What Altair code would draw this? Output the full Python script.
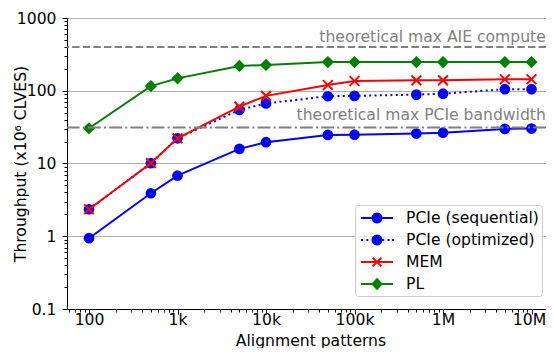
import math
import altair as alt
import pandas as pd

# ---------------- data ----------------
patterns = [100, 500, 1000, 5000, 10000, 50000, 100000, 500000, 1000000, 5000000, 10000000]
pcie_seq = [0.94, 3.9, 6.8, 15.9, 19.6, 24.7, 24.9, 25.8, 26.5, 29.9, 30.2]
pcie_opt = [2.35, 10.1, 22.2, 54.5, 67, 84, 85, 88.5, 91, 105, 105]
mem = [2.35, 10.1, 22.2, 60.5, 85, 120, 136, 139, 139, 144, 144]
pl = [30.5, 116, 148, 219, 226, 248, 248, 248, 248, 248, 248]

series_names = ["PCIe (sequential)", "PCIe (optimized)", "MEM", "PL"]
series_values = [pcie_seq, pcie_opt, mem, pl]
series_colors = ["#0000ff", "#0000ff", "#ff0000", "#008000"]

ref_values = [400, 31.25]
ref_labels = ["theoretical max AIE compute", "theoretical max PCIe bandwidth"]
ref_label_x = 14500000

x_major = [100, 1000, 10000, 100000, 1000000, 10000000]
x_major_labels = ["100", "1k", "10k", "100k", "1M", "10M"]
y_major = [0.1, 1, 10, 100, 1000]
y_major_labels = ["0.1", "1", "10", "100", "1000"]

# ---------------- styling ----------------
FONT = "DejaVu Sans"
FS = 15.6
X_DOMAIN = [56.4, 14580000]
Y_DOMAIN = [0.1, 1000]

x_ticks = [m * 10 ** e for e in range(1, 8) for m in range(1, 10) if X_DOMAIN[0] <= m * 10 ** e <= X_DOMAIN[1]]
y_ticks = [round(m * 10 ** e, 6) for e in range(-1, 4) for m in range(1, 10) if 0.1 <= m * 10 ** e <= 1000]


def label_expr(values, labels):
    expr = "''"
    for v, l in reversed(list(zip(values, labels))):
        expr = f"datum.value == {v} ? '{l}' : ({expr})"
    return expr


MAJOR = "abs(log(datum.value)/LN10 - round(log(datum.value)/LN10)) < 0.001"

x_axis = alt.Axis(
    values=x_ticks,
    labelExpr=label_expr(x_major, x_major_labels),
    tickSize={"condition": {"test": MAJOR, "value": 5}, "value": 3},
    grid=False,
    labelOverlap=False,
    labelFlush=False,
    labelBaseline="alphabetic",
    labelPadding=10,
    labelOffset={"condition": {"test": "datum.value == 10000000", "value": -2.5}, "value": 0},
    title="Alignment patterns",
    titleX=243.5,
    titleY=36,
    titleBaseline="alphabetic",
)
y_axis = alt.Axis(
    values=y_ticks,
    labelExpr=label_expr(y_major, y_major_labels),
    tickSize={"condition": {"test": MAJOR, "value": 5}, "value": 3},
    grid=True,
    gridOpacity={"condition": {"test": MAJOR, "value": 1}, "value": 0},
    gridColor="#b0b0b0",
    gridWidth=1,
    labelOverlap=False,
    labelFlush=False,
    labelPadding=6,
    title="Throughput (x10\u2076 CLVES)",
    titleX=-39,
    titleY=145.5,
    titleBaseline="bottom",
    titleAngle=270,
)

X = alt.X("x:Q", scale=alt.Scale(type="log", domain=X_DOMAIN, nice=False), axis=x_axis)
Y = alt.Y("y:Q", scale=alt.Scale(type="log", domain=Y_DOMAIN, nice=False), axis=y_axis)


# ---------------- legend symbols (line + marker as filled paths) ----------------
def poly(pts):
    return "M" + "L".join(f"{px:.3f},{py:.3f}" for px, py in pts) + "Z"


def bar(cx, cy, ang, a, b):
    ca, sa = math.cos(ang), math.sin(ang)
    loc = [(a, -b), (a, b), (-a, b), (-a, -b)]
    return poly([(cx + u * ca - v * sa, cy + u * sa + v * ca) for u, v in loc])


S = 0.9  # horizontal shift of the drawn symbol
LINE = bar(S, 0, 0, 1.6, 0.1)
CIRC = poly([(S + 0.55 * math.cos(2 * math.pi * k / 24), 0.55 * math.sin(2 * math.pi * k / 24)) for k in range(24)])
DOTS = "".join(bar(S + d, 0, 0, 0.1, 0.1) for d in [-1.5, -0.97, -0.44, 0.62, 1.15, 1.6])
XMARK = bar(S, 0, math.pi / 4, 0.62, 0.1) + bar(S, 0, -math.pi / 4, 0.62, 0.1)
DIAM = poly([(S, -0.62), (S + 0.58, 0), (S, 0.62), (S - 0.58, 0)])
legend_paths = [LINE + CIRC, DOTS + CIRC, LINE + XMARK, LINE + DIAM]

legend = alt.Legend(
    title=None,
    orient="none",
    legendX=288,
    legendY=187,
    symbolSize=400,
    symbolStrokeWidth=0,
    symbolOpacity=1,
    labelFont=FONT,
    labelFontSize=FS,
    labelColor="black",
    labelOffset=28,
    rowPadding=3,
    padding=3,
    strokeColor="#cccccc",
    fillColor="rgba(255,255,255,0.8)",
    cornerRadius=3,
)

# ---------------- layers ----------------
layers = []
markers = [
    dict(shape="circle", filled=True, size=115),
    dict(shape="circle", filled=True, size=115),
    dict(shape="M-1,-1L1,1M-1,1L1,-1", filled=False, size=95),
    dict(shape="diamond", filled=True, size=150),
]
dashes = [None, [2, 3.3], None, None]

for name, vals, col, mk, dash in zip(series_names, series_values, series_colors, markers, dashes):
    d = pd.DataFrame({"x": patterns, "y": vals, "series": name})
    line_kw = dict(strokeWidth=2, color=col, clip=True)
    if dash:
        line_kw["strokeDash"] = dash
    layers.append(alt.Chart(d).mark_line(**line_kw).encode(x=X, y=Y))
    pt_kw = dict(shape=mk["shape"], filled=mk["filled"], size=mk["size"], color=col, opacity=1)
    if not mk["filled"]:
        pt_kw["strokeWidth"] = 2
    layers.append(alt.Chart(d).mark_point(**pt_kw).encode(x=X, y=Y))

# reference lines + labels
ref_dashes = [[7.4, 3.2], [12.8, 3.2, 2, 3.2]]
ref_dy = [-5, -7.5]
for val, lab, dash, dy in zip(ref_values, ref_labels, ref_dashes, ref_dy):
    rd = pd.DataFrame({"x": [ref_label_x], "y": [val], "label": [lab]})
    layers.append(
        alt.Chart(rd).mark_rule(color="#808080", strokeWidth=2, strokeDash=dash).encode(y=Y)
    )
    layers.append(
        alt.Chart(rd)
        .mark_text(align="right", baseline="alphabetic", dy=dy, font=FONT, fontSize=FS, color="#808080")
        .encode(x=X, y=Y, text="label:N")
    )

# invisible layer that drives the legend
all_df = pd.concat(
    [pd.DataFrame({"x": patterns, "y": v, "series": n}) for n, v in zip(series_names, series_values)]
)
layers.append(
    alt.Chart(all_df)
    .mark_point(filled=True, opacity=0)
    .encode(
        x=X,
        y=Y,
        color=alt.Color("series:N", scale=alt.Scale(domain=series_names, range=series_colors), legend=legend),
        shape=alt.Shape("series:N", scale=alt.Scale(domain=series_names, range=legend_paths), legend=legend),
    )
)

chart = (
    alt.layer(*layers)
    .properties(
        width=479,
        height=291,
        autosize=alt.AutoSizeParams(type="none"),
        padding={"left": 59, "top": 10, "right": 0, "bottom": 39},
        background="white",
    )
    .configure_view(stroke="black", strokeWidth=1)
    .configure_axis(
        domainColor="black",
        tickColor="black",
        tickWidth=1,
        labelColor="black",
        labelFont=FONT,
        labelFontSize=FS,
        titleFont=FONT,
        titleFontSize=FS,
        titleFontWeight="normal",
        titleColor="black",
    )
)

chart.save("out.html", embed_options={"renderer": "svg", "actions": False})
